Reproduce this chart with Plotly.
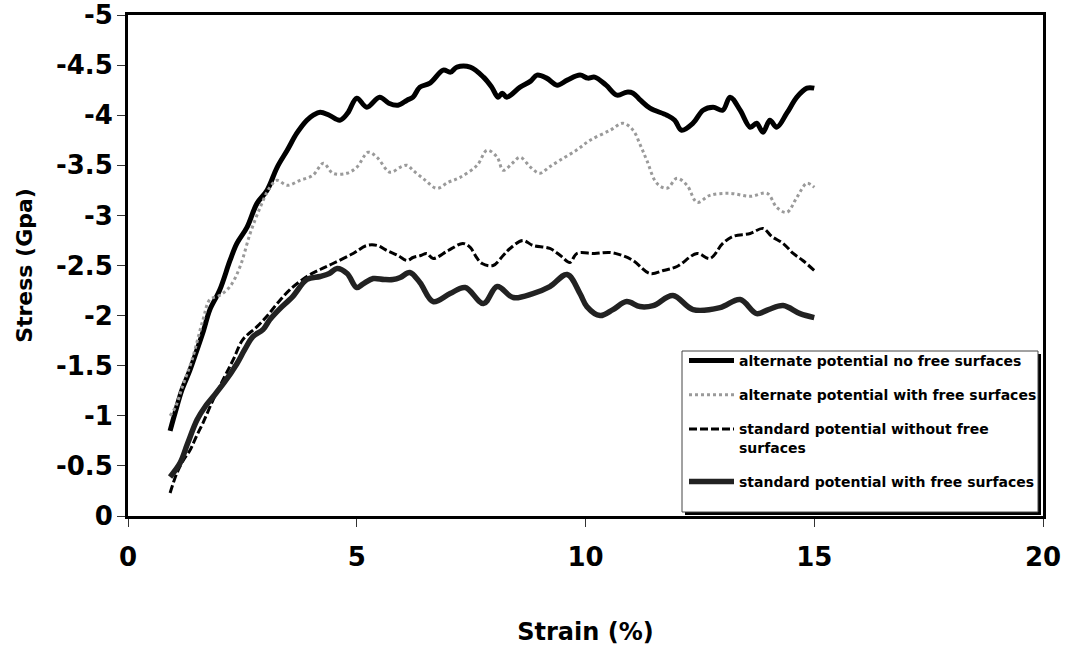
import plotly.graph_objects as go

# ---------------- data ----------------
alt_nofree_x = [0.92, 1.03, 1.18, 1.35, 1.51, 1.65, 1.79, 2.0, 2.23, 2.38, 2.6, 2.82, 3.04, 3.26, 3.48, 3.69,
                3.91, 4.05, 4.2, 4.4, 4.63, 4.8, 5.0, 5.22, 5.5, 5.7, 5.9, 6.1, 6.23, 6.38, 6.6, 6.89, 7.05,
                7.19, 7.48, 7.77, 7.95, 8.09, 8.18, 8.28, 8.57, 8.8, 8.94, 9.15, 9.38, 9.6, 9.88, 10.05, 10.2,
                10.45, 10.69, 10.9, 11.04, 11.2, 11.41, 11.78, 11.95, 12.1, 12.35, 12.57, 12.79, 13.0, 13.16,
                13.38, 13.6, 13.74, 13.88, 14.03, 14.18, 14.4, 14.62, 14.84, 15.0]
alt_nofree_y = [-0.85, -1.03, -1.26, -1.45, -1.66, -1.85, -2.06, -2.25, -2.55, -2.72, -2.88, -3.12, -3.25,
                -3.48, -3.65, -3.82, -3.95, -4.0, -4.03, -4.0, -3.95, -4.02, -4.17, -4.08, -4.18, -4.12, -4.1,
                -4.15, -4.18, -4.28, -4.32, -4.45, -4.43, -4.48, -4.48, -4.38, -4.28, -4.18, -4.22, -4.18,
                -4.28, -4.34, -4.4, -4.37, -4.3, -4.35, -4.4, -4.37, -4.38, -4.3, -4.2, -4.23, -4.22, -4.15,
                -4.07, -4.0, -3.95, -3.85, -3.92, -4.05, -4.08, -4.05, -4.18, -4.05, -3.88, -3.92, -3.83,
                -3.95, -3.88, -4.02, -4.18, -4.27, -4.27]

alt_free_x = [0.92, 1.05, 1.18, 1.4, 1.64, 1.79, 2.0, 2.23, 2.45, 2.67, 2.89, 3.1, 3.26, 3.48, 3.76, 4.04,
              4.27, 4.48, 4.78, 5.0, 5.25, 5.44, 5.73, 5.95, 6.1, 6.23, 6.5, 6.75, 7.0, 7.26, 7.63, 7.85,
              8.07, 8.2, 8.4, 8.57, 8.8, 9.0, 9.2, 9.44, 9.8, 10.1, 10.54, 10.82, 11.04, 11.2, 11.34, 11.56,
              11.78, 12.0, 12.22, 12.44, 12.72, 13.16, 13.6, 13.97, 14.18, 14.4, 14.62, 14.84, 15.0]
alt_free_y = [-1.0, -1.1, -1.28, -1.56, -1.96, -2.16, -2.2, -2.29, -2.49, -2.82, -3.08, -3.28, -3.35, -3.3,
              -3.35, -3.4, -3.52, -3.42, -3.42, -3.48, -3.63, -3.58, -3.43, -3.48, -3.5, -3.45, -3.35, -3.27,
              -3.33, -3.38, -3.5, -3.65, -3.58, -3.45, -3.52, -3.58, -3.48, -3.42, -3.48, -3.55, -3.65,
              -3.75, -3.85, -3.92, -3.85, -3.7, -3.55, -3.32, -3.27, -3.37, -3.3, -3.13, -3.2, -3.22, -3.19,
              -3.22, -3.08, -3.03, -3.18, -3.32, -3.28]

std_nofree_x = [0.92, 1.07, 1.2, 1.36, 1.5, 1.64, 1.86, 2.1, 2.3, 2.51, 2.82, 3.05, 3.26, 3.54, 3.91, 4.2,
                4.48, 4.92, 5.22, 5.45, 5.66, 5.9, 6.1, 6.23, 6.4, 6.53, 6.67, 7.0, 7.32, 7.48, 7.62, 7.74,
                7.98, 8.2, 8.35, 8.63, 8.85, 9.22, 9.45, 9.66, 9.81, 10.2, 10.54, 10.8, 11.04, 11.41, 11.7,
                12.0, 12.44, 12.72, 13.0, 13.22, 13.6, 13.88, 14.07, 14.32, 14.54, 14.75, 15.0]
std_nofree_y = [-0.23, -0.43, -0.55, -0.66, -0.8, -0.93, -1.16, -1.38, -1.56, -1.76, -1.89, -2.0, -2.12,
                -2.26, -2.39, -2.46, -2.52, -2.62, -2.7, -2.7, -2.65, -2.6, -2.55, -2.58, -2.6, -2.62, -2.57,
                -2.65, -2.72, -2.68, -2.58, -2.52, -2.5, -2.6, -2.67, -2.75, -2.7, -2.67, -2.6, -2.53, -2.62,
                -2.62, -2.63, -2.6, -2.55, -2.42, -2.45, -2.49, -2.62, -2.57, -2.72, -2.79, -2.82, -2.87,
                -2.79, -2.72, -2.62, -2.55, -2.45]

std_free_x = [0.92, 1.14, 1.3, 1.51, 1.7, 1.86, 2.1, 2.38, 2.55, 2.73, 2.95, 3.1, 3.3, 3.6, 3.91, 4.2, 4.4,
              4.57, 4.79, 5.0, 5.15, 5.36, 5.6, 5.79, 5.95, 6.16, 6.38, 6.67, 7.04, 7.37, 7.77, 8.07, 8.42,
              8.85, 9.22, 9.6, 9.88, 10.03, 10.32, 10.6, 10.9, 11.19, 11.48, 11.91, 12.35, 12.94, 13.38,
              13.74, 14.0, 14.32, 14.69, 15.0]
std_free_y = [-0.39, -0.53, -0.72, -0.96, -1.1, -1.19, -1.33, -1.52, -1.66, -1.79, -1.86, -1.96, -2.06,
              -2.19, -2.36, -2.39, -2.42, -2.47, -2.42, -2.28, -2.32, -2.37, -2.36, -2.36, -2.38, -2.43,
              -2.33, -2.14, -2.22, -2.28, -2.12, -2.29, -2.18, -2.22, -2.29, -2.41, -2.22, -2.09, -2.0,
              -2.06, -2.14, -2.09, -2.1, -2.2, -2.06, -2.08, -2.16, -2.02, -2.06, -2.1, -2.02, -1.98]

series_names = ["alternate potential no free surfaces",
                "alternate potential with free surfaces",
                "standard potential without free<br>surfaces",
                "standard potential with free surfaces"]

x_tick_vals = [0, 5, 10, 15, 20]
x_tick_text = ["0", "5", "10", "15", "20"]
y_tick_vals = [0, -0.5, -1, -1.5, -2, -2.5, -3, -3.5, -4, -4.5, -5]
y_tick_text = ["0", "-0.5", "-1", "-1.5", "-2", "-2.5", "-3", "-3.5", "-4", "-4.5", "-5"]

# ---------------- figure ----------------
FONT = "DejaVu Sans"
fig = go.Figure()

styles = [
    dict(color="black", width=5),
    dict(color="#9a9a9a", width=3, dash="dot"),
    dict(color="black", width=3, dash="8px,3px"),
    dict(color="#222222", width=5.5),
]
data = [(alt_nofree_x, alt_nofree_y), (alt_free_x, alt_free_y),
        (std_nofree_x, std_nofree_y), (std_free_x, std_free_y)]

for i, ((xs, ys), name, st) in enumerate(zip(data, series_names, styles)):
    fig.add_trace(go.Scatter(x=xs, y=ys, mode="lines", name=name, line=st,
                             line_shape="spline", legendgroup=f"g{i}"))

# the page body margin is removed (post_script below), so the figure fills the window
W, H = 1067, 656
PL, PR, PT, PB = 128, 1043, 15, 516  # plot area in window pixels
L, T = PL, PT
R = W - PR
B = H - PB


def px_x(p):
    return (p - PL) / (PR - PL)


def px_y(p):
    return (PB - p) / (PB - PT)


shapes = [
    # legend shadow
    dict(type="rect", xref="paper", yref="paper", x0=px_x(685), x1=px_x(1041), y0=px_y(515), y1=px_y(354),
         fillcolor="black", line=dict(width=0), layer="above"),
    # legend box
    dict(type="rect", xref="paper", yref="paper", x0=px_x(682), x1=px_x(1038), y0=px_y(512), y1=px_y(351),
         fillcolor="white", line=dict(color="#444", width=1), layer="above"),
]

tickfont = dict(family=FONT, size=26, color="black", weight="bold")

fig.update_layout(
    width=W, height=H,
    margin=dict(l=L, r=R, t=T, b=B, autoexpand=False),
    paper_bgcolor="white", plot_bgcolor="white",
    showlegend=True,
    legend=dict(x=px_x(684), y=px_y(345), xanchor="left", yanchor="top",
                bgcolor="rgba(0,0,0,0)", borderwidth=0, valign="top",
                font=dict(family=FONT, size=14, color="black", weight="bold"),
                traceorder="grouped", tracegroupgap=13, itemwidth=45),
    shapes=shapes,
    xaxis=dict(range=[0, 20], tickvals=x_tick_vals, ticktext=x_tick_text,
               showgrid=False, zeroline=False, showline=True, mirror=True,
               linecolor="black", linewidth=3, ticks="outside", ticklen=8, tickwidth=1,
               tickcolor="#333", tickfont=tickfont, ticklabelstandoff=8,
               ticklabeloverflow="allow",
               title=dict(text="Strain (%)", standoff=52,
                          font=dict(family=FONT, size=24, color="black", weight="bold"))),
    yaxis=dict(range=[0, -5], tickvals=y_tick_vals, ticktext=y_tick_text,
               showgrid=False, zeroline=False, showline=True, mirror=True,
               linecolor="black", linewidth=3, ticks="outside", ticklen=8, tickwidth=1,
               tickcolor="#333", tickfont=tickfont, ticklabelstandoff=-1,
               ticklabeloverflow="allow",
               title=dict(text="Stress (Gpa)", standoff=18,
                          font=dict(family=FONT, size=22, color="black", weight="bold"))),
)

fig.write_html("out.html", config={"displayModeBar": False},
               post_script="document.body.style.margin='0px';")
